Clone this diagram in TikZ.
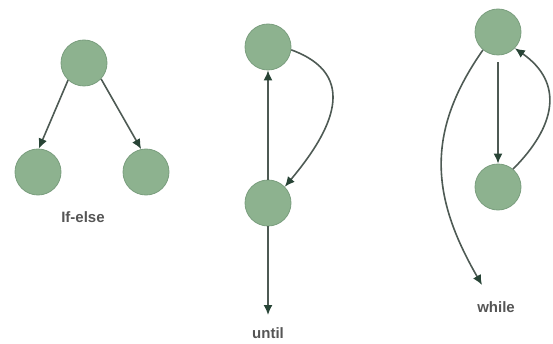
\documentclass[tikz,border=0pt]{standalone}
\usepackage{fontspec}
\setsansfont{Liberation Sans}
\usepackage{xcolor}
\usetikzlibrary{arrows.meta}
\definecolor{vfill}{RGB}{141,178,143}
\definecolor{vline}{RGB}{122,158,126}
\definecolor{aline}{RGB}{78,90,84}
\definecolor{ahead}{RGB}{40,68,54}
\definecolor{lbl}{RGB}{85,85,85}

\begin{document}
\begin{tikzpicture}[
  x=1pt,y=1pt,
  vert/.style={circle,draw=vline,line width=0.8pt,fill=vfill,minimum size=46pt,inner sep=0pt},
  arr/.style={-{Latex[length=10pt,width=9pt,color=ahead]},draw=aline,line width=1.6pt},
  lab/.style={font=\sffamily\bfseries\fontsize{15}{17}\selectfont,text=lbl}
]
  \useasboundingbox (0,0) rectangle (553,343);
  % if-else
  \node[vert] (ie) at (84,280) {};
  \node[vert] (ieL) at (38,171) {};
  \node[vert] (ieR) at (146,171) {};
  \node[lab] (ielbl) at (83,126) {If-else};
  \draw[arr] (ie.227) -- (ieL.88);
  \draw[arr] (ie.-43) -- (ieR.102);
  % until
  \node[vert] (ut) at (268,296) {};
  \node[vert] (ub) at (268,140) {};
  \coordinate (uend) at (268,28);
  \node[lab] (ulbl) at (268,10) {until};
  \draw[arr] (ub.north) -- (ut.south);
  \draw[arr] (ut.-7) to[out=-20,in=50,looseness=1.37] (ub.44);
  \draw[arr] (ub.south) -- (uend);
  % while
  \node[vert] (wt) at (498,311) {};
  \node[vert] (wb) at (498,156) {};
  \coordinate (wend) at (482,58);
  \node[lab] (wlbl) at (496,36) {while};
  \draw[arr,shorten <=7pt] (wt.south) -- (wb.north);
  \draw[arr] (wb.50) to[out=45,in=-35,looseness=1.28] (wt.-44);
  \draw[arr] (wt.230) to[out=235,in=120,looseness=1.1] (wend);
\end{tikzpicture}
\end{document}
